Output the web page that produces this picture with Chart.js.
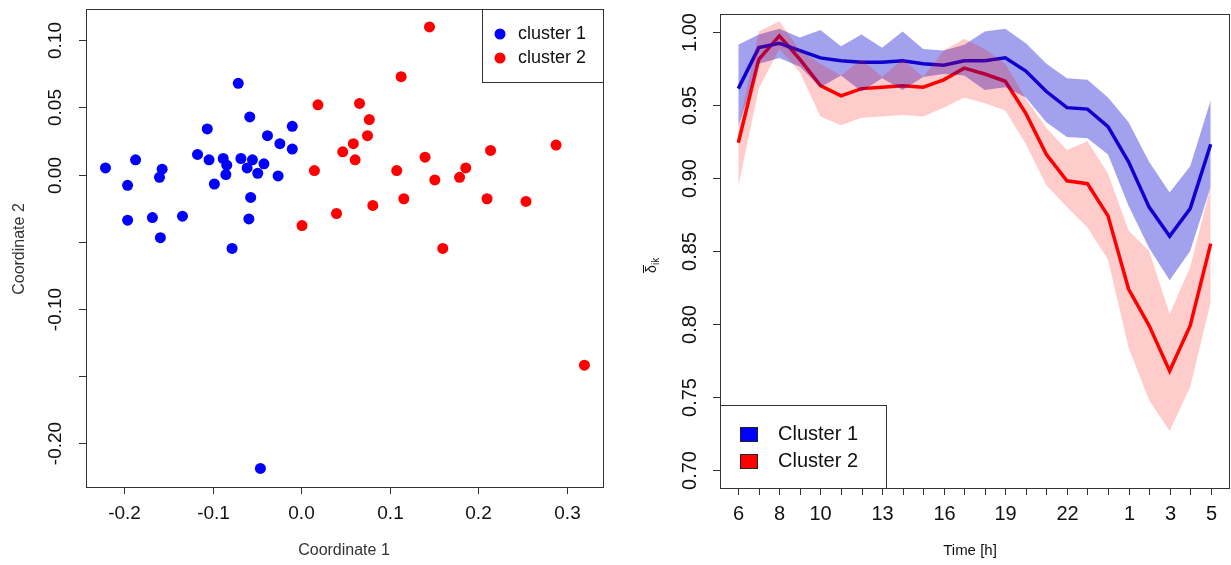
<!DOCTYPE html>
<html>
<head>
<meta charset="utf-8">
<script src="https://cdn.jsdelivr.net/npm/chart.js@4"></script>
<style>
  body { margin: 0; background: #fff; }
  #left { position: absolute; left: 0; top: 0; width: 615px; height: 565px; }
  #right { position: absolute; left: 615px; top: 0; width: 616px; height: 565px; }
</style>
</head>
<body>
<div id="left"><canvas id="scatterChart"></canvas></div>
<div id="right"><canvas id="timeChart"></canvas></div>
<script>
const cluster1 = [
  [-0.221, 0.005], [-0.187, 0.011], [-0.196, -0.008], [-0.160, -0.002], [-0.157, 0.004],
  [-0.196, -0.034], [-0.168, -0.032], [-0.159, -0.047], [-0.134, -0.031], [-0.117, 0.015],
  [-0.106, 0.034], [-0.104, 0.011], [-0.098, -0.007], [-0.088, 0.012], [-0.084, 0.007],
  [-0.085, 0.000], [-0.071, 0.068], [-0.078, -0.055], [-0.068, 0.012], [-0.058, 0.043],
  [-0.055, 0.011], [-0.061, 0.005], [-0.057, -0.017], [-0.059, -0.033], [-0.049, 0.001],
  [-0.042, 0.008], [-0.038, 0.029], [-0.024, 0.023], [-0.026, -0.001], [-0.010, 0.036],
  [-0.010, 0.019], [-0.046, -0.219],
];
const cluster2 = [
  [0.145, 0.110], [0.113, 0.073], [0.019, 0.052], [0.066, 0.053], [0.077, 0.041],
  [0.075, 0.029], [0.059, 0.023], [0.047, 0.017], [0.061, 0.011], [0.015, 0.003],
  [0.001, -0.038], [0.040, -0.029], [0.081, -0.023], [0.108, 0.003], [0.116, -0.018],
  [0.140, 0.013], [0.151, -0.004], [0.160, -0.055], [0.179, -0.002], [0.186, 0.005],
  [0.214, 0.018], [0.210, -0.018], [0.254, -0.020], [0.288, 0.022], [0.320, -0.142],
];
const scatterXTicks = [-0.2, -0.1, 0.0, 0.1, 0.2, 0.3];
const scatterYTicks = [0.10, 0.05, 0.00, -0.05, -0.10, -0.15, -0.20];
const scatterYLabeled = [0.10, 0.05, 0.00, -0.10, -0.20];

const hours = [6,7,8,9,10,11,12,13,14,15,16,17,18,19,20,21,22,23,0,1,2,3,4,5];
const hourLabels = { 6: "6", 8: "8", 10: "10", 13: "13", 16: "16", 19: "19", 22: "22", 1: "1", 3: "3", 5: "5" };
const mean1 = [0.961,0.989,0.992,0.987,0.982,0.980,0.979,0.979,0.980,0.978,0.977,0.980,0.980,0.982,0.973,0.959,0.948,0.947,0.935,0.911,0.880,0.860,0.879,0.923];
const upper1 = [0.991,0.998,1.002,0.996,1.001,0.990,0.998,0.989,1.000,0.988,0.987,0.991,1.000,1.002,0.992,0.978,0.968,0.967,0.955,0.938,0.911,0.890,0.908,0.953];
const lower1 = [0.935,0.978,0.982,0.976,0.962,0.970,0.959,0.968,0.960,0.969,0.971,0.970,0.960,0.962,0.955,0.938,0.928,0.927,0.916,0.881,0.852,0.830,0.850,0.894];
const mean2 = [0.924,0.981,0.997,0.981,0.963,0.956,0.961,0.962,0.963,0.962,0.967,0.975,0.971,0.966,0.944,0.916,0.898,0.896,0.874,0.824,0.799,0.768,0.799,0.855];
const upper2 = [0.933,1.000,1.007,0.987,0.978,0.970,0.981,0.969,0.981,0.969,0.987,0.995,0.988,0.978,0.954,0.934,0.919,0.925,0.903,0.864,0.850,0.807,0.839,0.894];
const lower2 = [0.894,0.961,0.988,0.972,0.942,0.936,0.941,0.942,0.943,0.942,0.948,0.955,0.951,0.946,0.923,0.895,0.880,0.866,0.844,0.784,0.748,0.727,0.757,0.815];
const timeYTicks = [0.70, 0.75, 0.80, 0.85, 0.90, 0.95, 1.00];

const FONT = "'Liberation Sans', Arial, sans-serif";

function toXY(arr) { return arr.map(([x, y]) => ({ x, y })); }
function series(arr) { return arr.map((v, i) => ({ x: i, y: v })); }

// R-style frame, outside ticks, rotated y labels
function rAxesPlugin(cfg) {
  return {
    id: "rAxes",
    afterDraw(chart) {
      const { ctx, chartArea: a, scales } = chart;
      const xs = scales.x, ys = scales.y;
      ctx.save();
      ctx.strokeStyle = "#333";
      ctx.lineWidth = 1;
      ctx.strokeRect(a.left + 0.5, a.top + 0.5, a.right - a.left, a.bottom - a.top);
      ctx.fillStyle = "#111";
      ctx.font = `${cfg.tickFont}px ${FONT}`;
      ctx.textAlign = "center";
      ctx.textBaseline = "middle";
      cfg.xTicks.forEach((v) => {
        const px = Math.round(xs.getPixelForValue(v)) + 0.5;
        ctx.beginPath(); ctx.moveTo(px, a.bottom); ctx.lineTo(px, a.bottom + 7); ctx.stroke();
        const lab = cfg.xLabel(v);
        if (lab !== null) ctx.fillText(lab, px, cfg.xLabelY);
      });
      cfg.yTicks.forEach((v) => {
        const py = Math.round(ys.getPixelForValue(v)) + 0.5;
        ctx.beginPath(); ctx.moveTo(a.left, py); ctx.lineTo(a.left - 7, py); ctx.stroke();
        const lab = cfg.yLabel(v);
        if (lab !== null) {
          ctx.save();
          ctx.translate(cfg.yLabelX, py);
          ctx.rotate(-Math.PI / 2);
          ctx.fillText(lab, 0, 0);
          ctx.restore();
        }
      });
      cfg.extra(ctx, a);
      ctx.restore();
    },
  };
}

new Chart(document.getElementById("scatterChart"), {
  type: "scatter",
  data: {
    datasets: [
      { label: "cluster 1", data: toXY(cluster1), backgroundColor: "#0000ff", borderWidth: 0, pointRadius: 5.5 },
      { label: "cluster 2", data: toXY(cluster2), backgroundColor: "#ff0000", borderWidth: 0, pointRadius: 5.5 },
    ],
  },
  options: {
    responsive: true,
    maintainAspectRatio: false,
    animation: false,
    layout: { padding: { left: 86, right: 12, top: 9, bottom: 78 } },
    plugins: { legend: { display: false }, tooltip: { enabled: false } },
    scales: {
      x: { type: "linear", min: -0.243, max: 0.341, display: false },
      y: { type: "linear", min: -0.2328, max: 0.1234, display: false },
    },
  },
  plugins: [rAxesPlugin({
    tickFont: 19,
    xTicks: scatterXTicks,
    xLabel: (v) => v.toFixed(1),
    xLabelY: 514,
    yTicks: scatterYTicks,
    yLabel: (v) => (scatterYLabeled.includes(v) ? v.toFixed(2) : null),
    yLabelX: 56,
    extra(ctx, a) {
      ctx.font = `16px ${FONT}`;
      ctx.fillStyle = "#333";
      ctx.fillText("Coordinate 1", 344, 551);
      ctx.save();
      ctx.translate(20, 249);
      ctx.rotate(-Math.PI / 2);
      ctx.fillText("Coordinate 2", 0, 0);
      ctx.restore();
      ctx.strokeStyle = "#333";
      ctx.strokeRect(482.5, a.top + 0.5, a.right - 482, 73);
      [["cluster 1", "#0000ff", 34], ["cluster 2", "#ff0000", 58]].forEach(([t, c, y]) => {
        ctx.fillStyle = c;
        ctx.beginPath(); ctx.arc(500, y, 5.5, 0, Math.PI * 2); ctx.fill();
        ctx.fillStyle = "#111";
        ctx.textAlign = "left";
        ctx.font = `18px ${FONT}`;
        ctx.fillText(t, 518, y);
      });
    },
  })],
});

new Chart(document.getElementById("timeChart"), {
  type: "line",
  data: {
    datasets: [
      { data: series(upper2), borderWidth: 0, pointRadius: 0, fill: false },
      { data: series(lower2), borderWidth: 0, pointRadius: 0, fill: "-1", backgroundColor: "rgba(255,0,0,0.2)" },
      { data: series(upper1), borderWidth: 0, pointRadius: 0, fill: false },
      { data: series(lower1), borderWidth: 0, pointRadius: 0, fill: "-1", backgroundColor: "rgba(0,0,205,0.37)" },
      { data: series(mean1), borderColor: "#1a00d0", borderWidth: 3.5, pointRadius: 0, fill: false, tension: 0 },
      { data: series(mean2), borderColor: "#ff0000", borderWidth: 3.5, pointRadius: 0, fill: false, tension: 0 },
    ],
  },
  options: {
    responsive: true,
    maintainAspectRatio: false,
    animation: false,
    layout: { padding: { left: 105, right: 2, top: 14, bottom: 77 } },
    plugins: { legend: { display: false }, tooltip: { enabled: false } },
    scales: {
      x: { type: "linear", min: -0.89, max: 23.89, display: false },
      y: { type: "linear", min: 0.688, max: 1.012, display: false },
    },
  },
  plugins: [rAxesPlugin({
    tickFont: 20,
    xTicks: hours.map((h, i) => i),
    xLabel: (i) => (hourLabels[hours[i]] !== undefined ? hourLabels[hours[i]] : null),
    xLabelY: 514,
    yTicks: timeYTicks,
    yLabel: (v) => v.toFixed(2),
    yLabelX: 75,
    extra(ctx, a) {
      ctx.fillStyle = "#111";
      ctx.font = `15px ${FONT}`;
      ctx.fillText("Time [h]", 355, 551);
      // y title: delta-bar with subscript ik
      ctx.save();
      ctx.translate(37, 265);
      ctx.rotate(-Math.PI / 2);
      ctx.textAlign = "left";
      ctx.font = `14px ${FONT}`;
      ctx.fillText("\u03b4", -8, 0);
      ctx.fillRect(-8, -9, 8, 1);
      ctx.font = `10px ${FONT}`;
      ctx.fillText("ik", 0, 4);
      ctx.restore();
      // legend
      ctx.strokeStyle = "#333";
      ctx.strokeRect(a.left + 0.5, 405.5, 166, a.bottom - 405);
      [["Cluster 1", "#0000ff", 434], ["Cluster 2", "#ff0000", 461]].forEach(([t, c, y]) => {
        ctx.fillStyle = c;
        ctx.fillRect(125, y - 7, 17, 14);
        ctx.strokeStyle = "#222";
        ctx.strokeRect(125.5, y - 6.5, 17, 14);
        ctx.fillStyle = "#111";
        ctx.textAlign = "left";
        ctx.font = `20px ${FONT}`;
        ctx.fillText(t, 163, y);
      });
    },
  })],
});
</script>
</body>
</html>
